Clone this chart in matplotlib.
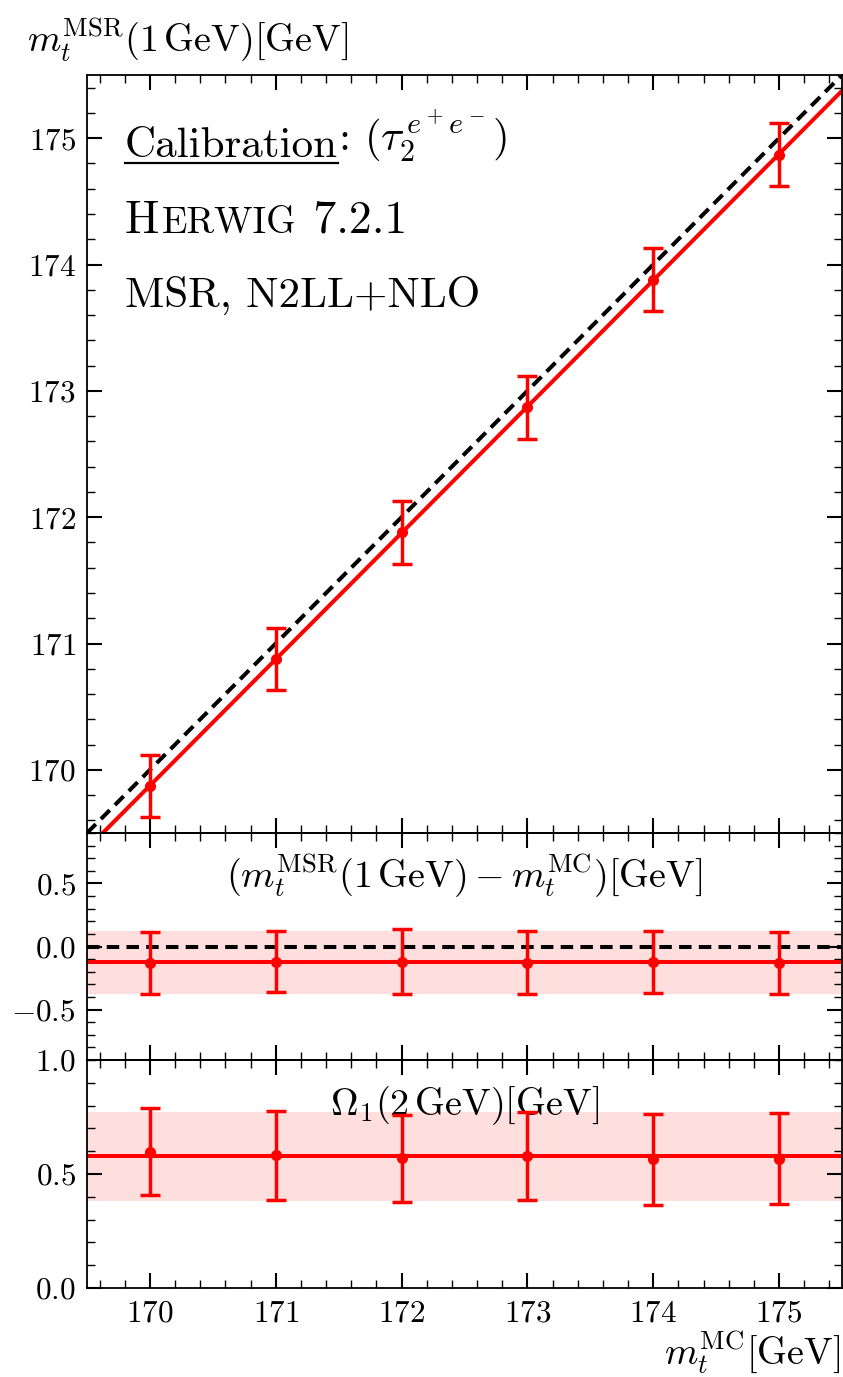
import matplotlib
matplotlib.use('Agg')
import matplotlib.pyplot as plt
from matplotlib.ticker import MultipleLocator
from matplotlib.lines import Line2D
import numpy as np

plt.rcParams['font.family'] = 'serif'
plt.rcParams['font.serif'] = ['cmr10']
plt.rcParams['mathtext.fontset'] = 'cm'
plt.rcParams['axes.formatter.use_mathtext'] = True
plt.rcParams['axes.unicode_minus'] = True

# input MC masses
mt_mc = [170, 171, 172, 173, 174, 175]

# calibrated MSR mass minus MC mass
mass_diff = [-0.13, -0.12, -0.12, -0.13, -0.12, -0.13]
mass_diff_err = [0.245, 0.24, 0.26, 0.25, 0.245, 0.245]
diff_fit = -0.125
diff_fit_err = 0.25

# Omega_1 at 2 GeV
omega = [0.598, 0.583, 0.569, 0.579, 0.564, 0.567]
omega_err = [0.19, 0.195, 0.19, 0.195, 0.2, 0.2]
omega_fit = 0.577
omega_fit_err = 0.195

mt_msr = [m + d for m, d in zip(mt_mc, mass_diff)]
mt_msr_err = [0.245, 0.245, 0.25, 0.25, 0.25, 0.25]

XLIM = (169.5, 175.5)
RED = '#ff0000'
LW = 2.9
DASH = (3.1, 1.8)
LABEL_FS = 27.5
TEXT_FS = 31

fig = plt.figure(figsize=(8.43, 13.77), dpi=100)
W, H = 843.0, 1377.0
left, right = 87 / W, 842 / W


def panel(top_px, bot_px):
    return fig.add_axes([left, 1 - bot_px / H, right - left, (bot_px - top_px) / H])


ax1 = panel(75, 833)
ax2 = panel(833, 1060)
ax3 = panel(1060, 1288)

for ax in (ax1, ax2, ax3):
    ax.set_xlim(*XLIM)
    ax.xaxis.set_major_locator(MultipleLocator(1))
    ax.xaxis.set_minor_locator(MultipleLocator(0.2))
    ax.tick_params(which='both', direction='in', top=True, right=True,
                   labelsize=22.5, pad=8)
    ax.tick_params(which='major', length=11, width=1.5)
    ax.tick_params(which='minor', length=6, width=1.0)
    for s in ax.spines.values():
        s.set_linewidth(1.3)
    ax.set_facecolor('none')

xline = np.array(XLIM)
err_kw = dict(fmt='o', color=RED, ms=7, elinewidth=2.5, capsize=7,
              capthick=2.5, zorder=4)

# top panel: calibrated mass vs MC mass
ax1.plot(xline, xline, color='k', lw=LW, dashes=DASH, zorder=3)
ax1.plot(xline, xline + diff_fit, color=RED, lw=LW, zorder=2)
ax1.errorbar(mt_mc, mt_msr, yerr=mt_msr_err, **err_kw)
ax1.set_ylim(169.5, 175.5)
ax1.yaxis.set_major_locator(MultipleLocator(1))
ax1.yaxis.set_minor_locator(MultipleLocator(0.2))
ax1.tick_params(labelbottom=False)

t = ax1.text(0.0503, 0.892, 'Calibration', transform=ax1.transAxes,
             fontsize=TEXT_FS, va='baseline')
ax1.annotate(r': $(\tau_2^{\,e^+e^-})$', xy=(1, 0), xycoords=t,
             fontsize=TEXT_FS, va='bottom')

h = ax1.text(0.0503, 0.7916, 'H', transform=ax1.transAxes, fontsize=33,
             va='baseline')
h2 = ax1.annotate('ERWIG', xy=(1, 0), xycoords=h, fontsize=27, va='bottom',
                  xytext=(1.5, 1.2), textcoords='offset points')
ax1.annotate(' 7.2.1', xy=(1, 0), xycoords=h2, fontsize=33, va='bottom',
             xytext=(1.5, -1.2), textcoords='offset points')
ax1.text(0.0503, 0.694, 'MSR, N2LL+NLO', transform=ax1.transAxes,
         fontsize=TEXT_FS, va='baseline')

# middle panel: mass difference
ax2.axhspan(diff_fit - diff_fit_err, diff_fit + diff_fit_err, color=RED,
            alpha=0.13, lw=0, zorder=1)
ax2.axhline(0, color='k', lw=LW, dashes=DASH, zorder=3)
ax2.axhline(diff_fit, color=RED, lw=LW, zorder=2)
ax2.errorbar(mt_mc, mass_diff, yerr=mass_diff_err, **err_kw)
ax2.set_ylim(-0.9, 0.9)
ax2.yaxis.set_major_locator(MultipleLocator(0.5))
ax2.yaxis.set_minor_locator(MultipleLocator(0.1))
ax2.tick_params(labelbottom=False)
ax2.text(0.5, 0.758,
         r'$(m_t^{\rm MSR}(1\,{\rm GeV})-m_t^{\rm MC})[{\rm GeV}]$',
         transform=ax2.transAxes, ha='center', va='baseline',
         fontsize=LABEL_FS)

# bottom panel: Omega_1
ax3.axhspan(omega_fit - omega_fit_err, omega_fit + omega_fit_err, color=RED,
            alpha=0.13, lw=0, zorder=1)
ax3.axhline(omega_fit, color=RED, lw=LW, zorder=2)
ax3.errorbar(mt_mc, omega, yerr=omega_err, **err_kw)
ax3.set_ylim(0, 1)
ax3.yaxis.set_major_locator(MultipleLocator(0.5))
ax3.yaxis.set_minor_locator(MultipleLocator(0.1))
ax3.text(0.5, 0.759, r'$\Omega_1(2\,{\rm GeV})[{\rm GeV}]$',
         transform=ax3.transAxes, ha='center', va='baseline',
         fontsize=LABEL_FS)

fig.text(27 / W, 1 - 52 / H, r'$m_t^{\rm MSR}(1\,{\rm GeV})[{\rm GeV}]$',
         ha='left', va='baseline', fontsize=LABEL_FS)
fig.text(840 / W, 1 - 1364 / H, r'$m_t^{\rm MC}[{\rm GeV}]$',
         ha='right', va='baseline', fontsize=LABEL_FS)

# underline "Calibration" using its rendered extent
fig.canvas.draw()
bb = t.get_window_extent().transformed(ax1.transAxes.inverted())
ax1.add_line(Line2D([bb.x0, bb.x1], [0.884, 0.884], color='k', lw=1.6,
                    transform=ax1.transAxes))

fig.savefig('out.png', dpi=100)
